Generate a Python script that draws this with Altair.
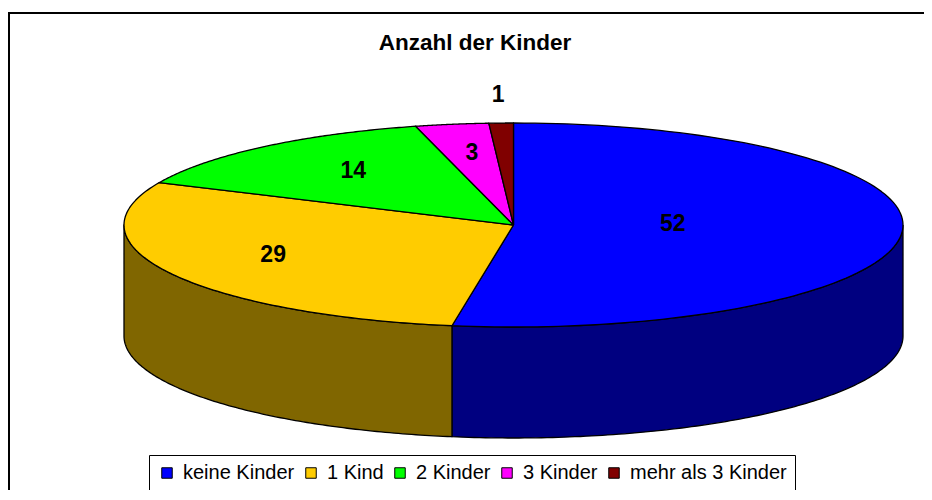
import altair as alt
import pandas as pd

# ---- data ----
categories = ["keine Kinder", "1 Kind", "2 Kinder", "3 Kinder", "mehr als 3 Kinder"]
values = [52, 29, 14, 3, 1]

# ---- styling ----
top_colors = ["#0000FF", "#FFCC00", "#00FF00", "#FF00FF", "#800000"]
side_colors = ["#000080", "#806600", "#008000", "#800080", "#400000"]
label_radius = [0.41, 0.70, 0.64, 0.675, 1.235]  # relative label distance from centre

W, H = 916, 482
CX, CY = 505.5, 217.0      # ellipse centre (view px)
A, B, D = 389.5, 102.0, 111.0  # semi-axes and depth of the 3D pie
N = 120
FONT = "Liberation Sans"

df = pd.DataFrame({
    "category": categories,
    "value": values,
    "order": list(range(len(categories))),
    "label_r": label_radius,
})

xs = alt.X("px:Q", scale=alt.Scale(domain=[0, W], nice=False, zero=False), axis=None)
ys = alt.Y("py:Q", scale=alt.Scale(domain=[0, H], nice=False, zero=False, reverse=True), axis=None)

base = (
    alt.Chart(df)
    .transform_window(cum="sum(value)", sort=[alt.SortField("order")], frame=[None, 0])
    .transform_joinaggregate(total="sum(value)")
    .transform_calculate(t0="(datum.cum - datum.value) / datum.total * 2 * PI")
    .transform_calculate(t1="datum.cum / datum.total * 2 * PI")
)

# side walls (front half only)
side = (
    base.transform_calculate(s0="max(datum.t0, PI / 2)")
    .transform_calculate(s1="min(datum.t1, 3 * PI / 2)")
    .transform_filter("datum.s1 > datum.s0")
    .transform_calculate(k=f"sequence(0, {2 * N + 3})")
    .transform_flatten(["k"])
    .transform_calculate(
        ang=f"datum.k <= {N} ? datum.s0 + (datum.s1 - datum.s0) * datum.k / {N} : "
            f"(datum.k <= {2 * N + 1} ? datum.s1 - (datum.s1 - datum.s0) * (datum.k - {N + 1}) / {N} : datum.s0)"
    )
    .transform_calculate(off=f"(datum.k > {N} && datum.k <= {2 * N + 1}) ? {D} : 0")
    .transform_calculate(px=f"{CX} + {A} * sin(datum.ang)")
    .transform_calculate(py=f"{CY} - {B} * cos(datum.ang) + datum.off")
    .mark_line(stroke="black", strokeWidth=1.3, strokeJoin="round")
    .encode(
        x=xs, y=ys, order="k:Q", detail="category:N",
        fill=alt.Fill("category:N", scale=alt.Scale(domain=categories, range=side_colors), legend=None),
    )
)

# top faces
top = (
    base.transform_calculate(k=f"sequence(0, {N + 3})")
    .transform_flatten(["k"])
    .transform_calculate(inner=f"datum.k >= 1 && datum.k <= {N + 1}")
    .transform_calculate(ang=f"datum.t0 + (datum.t1 - datum.t0) * (datum.k - 1) / {N}")
    .transform_calculate(px=f"datum.inner ? {CX} + {A} * sin(datum.ang) : {CX}")
    .transform_calculate(py=f"datum.inner ? {CY} - {B} * cos(datum.ang) : {CY}")
    .mark_line(stroke="black", strokeWidth=1.3, strokeJoin="round")
    .encode(
        x=xs, y=ys, order="k:Q", detail="category:N",
        fill=alt.Fill("category:N", scale=alt.Scale(domain=categories, range=top_colors), legend=None),
    )
)

# legend carrier (no visible marks; drives the legend only)
legend_layer = (
    alt.Chart(df)
    .transform_filter("false")
    .mark_square(filled=True, stroke="black", strokeWidth=1, size=110, opacity=1)
    .encode(
        x=alt.value(0), y=alt.value(0),
        fill=alt.Fill(
            "category:N",
            scale=alt.Scale(domain=categories, range=top_colors),
            legend=alt.Legend(
                title=None, orient="none", legendX=141, legendY=447,
                direction="horizontal", symbolType="square", symbolSize=110,
                symbolStrokeColor="black", symbolStrokeWidth=1,
                labelFont=FONT, labelFontSize=20, labelColor="black",
                labelOffset=6, columnPadding=6, padding=8, labelLimit=0,
                strokeColor="black", fillColor="white",
            ),
        ),
    )
)

labels = (
    base.transform_calculate(mid="(datum.t0 + datum.t1) / 2")
    .transform_calculate(px=f"{CX} + {A} * datum.label_r * sin(datum.mid)")
    .transform_calculate(py=f"{CY} - {B} * datum.label_r * cos(datum.mid) - 4")
    .mark_text(font=FONT, fontSize=23, fontWeight="bold", color="black", baseline="middle", align="center")
    .encode(x=xs, y=ys, text="value:Q")
)

title = (
    alt.Chart(alt.Data(values=[{"t": "Anzahl der Kinder"}]))
    .mark_text(font=FONT, fontSize=22.5, fontWeight="bold", color="black", baseline="alphabetic", align="center")
    .encode(text="t:N", x=alt.value(467), y=alt.value(42))
)

frame_data = alt.Data(values=[{"d": 1}])
border_top = alt.Chart(frame_data).mark_rule(color="black", strokeWidth=2).encode(
    x=alt.value(0), x2=alt.value(W), y=alt.value(5)
)
border_left = alt.Chart(frame_data).mark_rule(color="black", strokeWidth=2).encode(
    x=alt.value(1), y=alt.value(5), y2=alt.value(H)
)

chart = (
    alt.layer(side, top, legend_layer, labels, title, border_top, border_left)
    .resolve_scale(fill="independent")
    .properties(width=W, height=H, autosize=alt.AutoSizeParams(type="none"), padding=0, background="white")
    .configure_view(stroke=None)
)

chart.save("out.html", embed_options={"renderer": "svg", "actions": False})
